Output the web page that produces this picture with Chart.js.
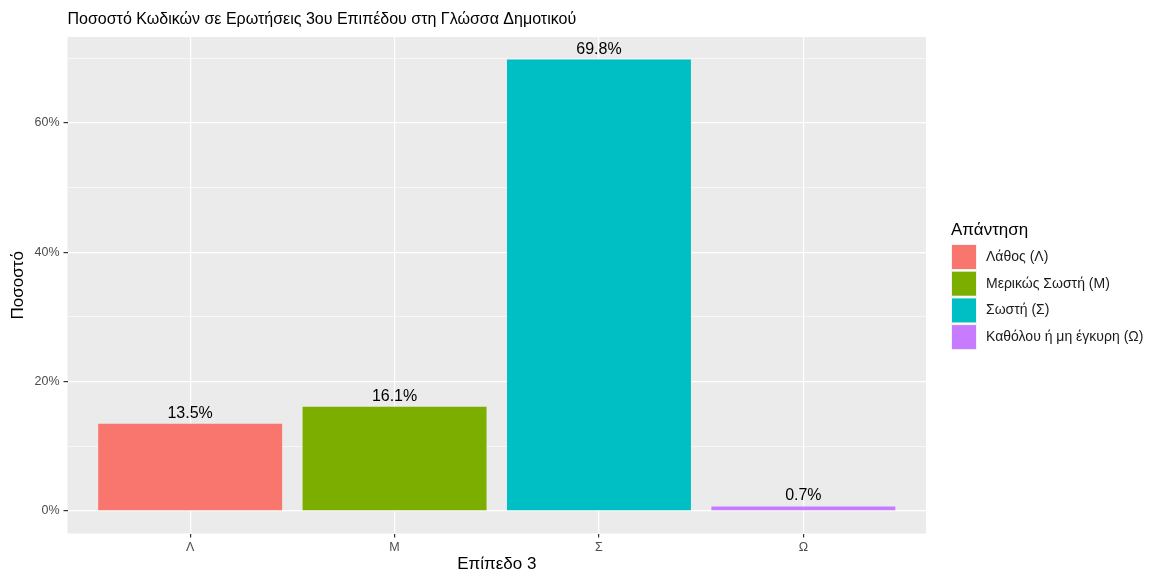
<!DOCTYPE html>
<html>
<head>
<meta charset="utf-8">
<script src="https://cdn.jsdelivr.net/npm/chart.js@4"></script>
<style>
    html, body { margin: 0; background: #fff; }
</style>
</head>
<body>
<canvas id="chart" width="1151" height="571"></canvas>
<script>
// Data
const categories = ['Λ', 'Μ', 'Σ', 'Ω'];
const seriesNames = ['Λάθος (Λ)', 'Μερικώς Σωστή (Μ)', 'Σωστή (Σ)', 'Καθόλου ή μη έγκυρη (Ω)'];
const percentages = [13.5, 16.1, 69.8, 0.7];
const barColors = ['#F8766D', '#7CAE00', '#00BFC4', '#C77CFF'];
const yTicks = [0, 10, 20, 30, 40, 50, 60, 70];
const yMajor = [0, 20, 40, 60];

const chartTitle = 'Ποσοστό Κωδικών σε Ερωτήσεις 3ου Επιπέδου στη Γλώσσα Δημοτικού';
const legendTitle = 'Απάντηση';

const FONT = '"Liberation Sans", Arial, sans-serif';
Chart.defaults.font.family = FONT;

// Grey panel background
const panelBg = {
    id: 'panelBg',
    beforeDraw(chart) {
        const { ctx, chartArea } = chart;
        ctx.save();
        ctx.fillStyle = '#EBEBEB';
        ctx.fillRect(chartArea.left, chartArea.top, chartArea.right - chartArea.left, chartArea.bottom - chartArea.top);
        ctx.restore();
    }
};

// Title aligned with the panel's left edge
const plotTitle = {
    id: 'plotTitle',
    afterDraw(chart) {
        const { ctx, chartArea } = chart;
        ctx.save();
        ctx.fillStyle = '#000';
        ctx.font = '16px ' + FONT;
        ctx.textAlign = 'left';
        ctx.textBaseline = 'middle';
        ctx.fillText(chartTitle, chartArea.left, 20);
        ctx.restore();
    }
};

// Percent labels above the bars
const barLabels = {
    id: 'barLabels',
    afterDatasetsDraw(chart) {
        const { ctx } = chart;
        ctx.save();
        ctx.fillStyle = '#000';
        ctx.font = '16px ' + FONT;
        ctx.textAlign = 'center';
        ctx.textBaseline = 'alphabetic';
        chart.data.datasets.forEach((ds, i) => {
            const bar = chart.getDatasetMeta(i).data[0];
            ctx.fillText(percentages[i].toFixed(1) + '%', bar.x, bar.y - 6);
        });
        ctx.restore();
    }
};

// ggplot-like legend on the right
const sideLegend = {
    id: 'sideLegend',
    afterDraw(chart) {
        const { ctx, chartArea } = chart;
        const x = chartArea.right + 26;
        const top = 245;
        const step = 26.7;
        ctx.save();
        ctx.textAlign = 'left';
        ctx.textBaseline = 'middle';
        ctx.fillStyle = '#000';
        ctx.font = '17px ' + FONT;
        ctx.fillText(legendTitle, x - 1, 230);
        ctx.font = '14px ' + FONT;
        seriesNames.forEach((name, i) => {
            const y = top + i * step;
            ctx.fillStyle = '#F2F2F2';
            ctx.fillRect(x - 1, y - 1, 26, 26);
            ctx.fillStyle = barColors[i];
            ctx.fillRect(x, y, 24, 24);
            ctx.fillStyle = '#1a1a1a';
            ctx.fillText(name, x + 34, y + 12);
        });
        ctx.restore();
    }
};

const datasets = categories.map((c, i) => ({
    label: seriesNames[i],
    data: [{ x: i + 1, y: percentages[i] }],
    backgroundColor: barColors[i],
    borderWidth: 0,
    grouped: false,
    categoryPercentage: 1,
    barPercentage: 0.9
}));

new Chart(document.getElementById('chart'), {
    type: 'bar',
    data: { datasets: datasets },
    options: {
        responsive: false,
        animation: false,
        devicePixelRatio: 1,
        layout: { padding: { top: 37, left: 9.5, right: 225, bottom: -2 } },
        plugins: {
            tooltip: { enabled: false },
            legend: { display: false }
        },
        scales: {
            x: {
                type: 'linear',
                offset: false,
                min: 0.4,
                max: 4.6,
                afterBuildTicks: axis => {
                    axis.ticks = categories.map((c, i) => ({ value: i + 1 }));
                },
                ticks: {
                    callback: v => categories[v - 1],
                    color: '#4d4d4d',
                    font: { size: 12.5, lineHeight: 1 },
                    padding: 4,
                    maxRotation: 0
                },
                grid: { offset: false, color: '#fff', lineWidth: 1.2, tickColor: '#333', tickLength: 4 },
                border: { display: false },
                title: {
                    display: true,
                    text: 'Επίπεδο 3',
                    color: '#000',
                    font: { size: 17, lineHeight: 1 },
                    padding: { top: -2, bottom: 0 }
                }
            },
            y: {
                type: 'linear',
                min: -3.49,
                max: 73.29,
                afterBuildTicks: axis => {
                    axis.ticks = yTicks.map(v => ({ value: v }));
                },
                ticks: {
                    callback: v => yMajor.includes(v) ? v + '%' : '',
                    color: '#4d4d4d',
                    font: { size: 12.5 },
                    padding: 4
                },
                grid: {
                    color: '#fff',
                    lineWidth: ctx => yMajor.includes(ctx.tick.value) ? 1.2 : 0.6,
                    tickColor: ctx => yMajor.includes(ctx.tick.value) ? '#333' : 'rgba(0,0,0,0)',
                    tickLength: 4
                },
                border: { display: false },
                title: {
                    display: true,
                    text: 'Ποσοστό',
                    color: '#000',
                    font: { size: 17, lineHeight: 1 },
                    padding: { top: 0, bottom: 4 }
                }
            }
        }
    },
    plugins: [panelBg, plotTitle, barLabels, sideLegend]
});
</script>
</body>
</html>
